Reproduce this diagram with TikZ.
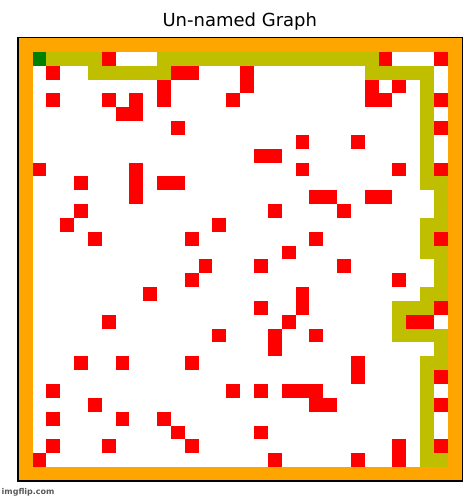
\documentclass[tikz,border=0pt]{standalone}
\usepackage{fontspec}
\setmainfont{DejaVu Sans}
\definecolor{wallorange}{HTML}{FFA500}
\definecolor{routeolive}{HTML}{BFBF00}
\definecolor{startgreen}{HTML}{008000}
\definecolor{obstred}{HTML}{FF0000}
\begin{document}
\begin{tikzpicture}[x=1pt,y=-1pt,
  cellgrid/.style={shift={(18.7pt,-38pt)},x=13.84pt,y=-13.84pt},
  wall/.style={fill=wallorange},
  obstacle/.style={fill=obstred},
  route/.style={fill=routeolive},
  startcell/.style={fill=startgreen},
  frame/.style={draw=black,line width=1.2pt},
  titletext/.style={font=\fontsize{18}{20}\selectfont,anchor=base,inner sep=0pt},
  marktext/.style={font=\fontsize{8}{9}\selectfont\bfseries,text=black!65,anchor=west,inner sep=0pt}]
\useasboundingbox (0,0) rectangle (475,500);
\node[titletext] (title) at (239.8,26.7) {Un-named Graph};
\begin{scope}[cellgrid]
  \fill[wall] (0,0) rectangle (32,32);
  \fill[white] (1,1) rectangle (31,31);
  \foreach \a/\b/\c/\d in {2/1/6/2, 5/2/11/3, 10/1/26/2, 25/2/30/3, 29/2/30/11,
      30/10/31/14, 29/13/30/16, 30/15/31/19, 29/18/30/20, 27/19/29/20,
      27/20/28/22, 27/21/31/22, 30/21/31/24, 29/23/30/31, 30/30/31/31}
    \fill[route] (\a,\b) rectangle (\c,\d);
  \foreach \c/\r in {6/1, 26/1, 30/1,
      2/2, 11/2, 12/2, 16/2,
      10/3, 16/3, 25/3, 27/3,
      2/4, 6/4, 8/4, 10/4, 15/4, 25/4, 26/4, 30/4,
      7/5, 8/5,
      11/6, 30/6,
      20/7, 24/7,
      17/8, 18/8,
      1/9, 8/9, 20/9, 27/9, 30/9,
      4/10, 8/10, 10/10, 11/10,
      8/11, 21/11, 22/11, 25/11, 26/11,
      4/12, 18/12, 23/12,
      3/13, 14/13,
      5/14, 12/14, 21/14, 30/14,
      19/15,
      13/16, 17/16, 23/16,
      12/17, 27/17,
      9/18, 20/18,
      17/19, 20/19, 30/19,
      6/20, 19/20, 28/20, 29/20,
      14/21, 18/21, 21/21,
      18/22,
      4/23, 7/23, 12/23, 24/23,
      24/24, 30/24,
      2/25, 15/25, 17/25, 19/25, 20/25, 21/25,
      5/26, 21/26, 22/26, 30/26,
      2/27, 7/27, 10/27,
      11/28, 17/28,
      2/29, 6/29, 12/29, 27/29, 30/29,
      1/30, 18/30, 24/30, 27/30}
    \fill[obstacle] (\c,\r) rectangle ++(1,1);
  \fill[startcell] (1,1) rectangle (2,2);
\end{scope}
\draw[frame] (18,37.3) rectangle (462.5,481);
\node[marktext] (watermark) at (1.5,492.5) {imgflip.com};
\end{tikzpicture}
\end{document}
